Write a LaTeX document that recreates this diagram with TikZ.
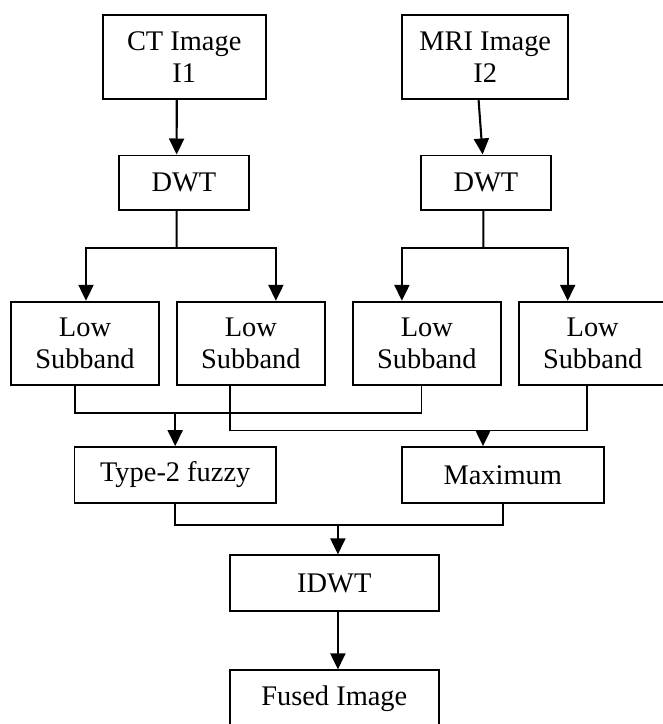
\documentclass[tikz,border=0pt]{standalone}
\usepackage{fontspec}
\setmainfont{Liberation Serif}
\usetikzlibrary{arrows.meta,positioning,calc}

\begin{document}
\begin{tikzpicture}[
  x=0.5pt,y=-0.5pt,
  box/.style={draw,line width=0.9pt,inner sep=0pt,align=center,
    font=\fontsize{14.2}{15.8}\selectfont},
  lowbox/.style={box,minimum width=74pt,minimum height=41.5pt},
  opbox/.style={box,minimum width=100.8pt,minimum height=28pt},
  arr/.style={-{Triangle[length=8pt,width=7.5pt]},line width=1.05pt},
  link/.style={line width=1.05pt},
  thinlink/.style={line width=0.7pt}
]
  \useasboundingbox (0,0) rectangle (663,724);
  % Input images
  \node[box,minimum width=81.5pt,minimum height=42.3pt] (ct) at (184.2,57) {CT Image\\I1};
  \node[box,minimum width=83pt,minimum height=42.3pt] (mri) at (485.2,57) {MRI Image\\I2};
  % Decomposition
  \node[box,minimum width=65pt,minimum height=27.3pt] (dwtL) at (184,182.7) {DWT};
  \node[box,minimum width=65pt,minimum height=27.3pt] (dwtR) at (486,182.7) {DWT};
  % Subbands
  \node[lowbox] (lowA) at (85,343.2) {Low\\Subband};
  \node[lowbox] (lowB) at (250.9,343.2) {Low\\Subband};
  \node[lowbox] (lowC) at (426.9,343.2) {Low\\Subband};
  \node[lowbox] (lowD) at (592.7,343.2) {Low\\Subband};
  % Fusion rules
  \node[opbox] (fuzzy) at (175.2,475) {Type-2 fuzzy};
  \node[opbox] (maxi) at (502.8,475) {Maximum};
  % Reconstruction
  \node[box,minimum width=104.3pt,minimum height=28pt] (idwt) at (334.3,583.3) {IDWT};
  \node[box,minimum width=104.3pt,minimum height=28pt] (fused) at (334.3,698.3) {Fused Image};
  % Junctions
  \coordinate (splitL) at (176.7,248.3);
  \coordinate (splitR) at (483.3,248.3);
  \coordinate (rowA) at (0,413);
  \coordinate (rowB) at (0,430.3);
  \coordinate (rowC) at (0,524.7);
  % Inputs to DWT
  \draw[arr] ([xshift=-3.7pt]ct.south) -- ([xshift=-3.7pt]dwtL.north);
  \draw[arr] ([xshift=-3.3pt]mri.south) -- ([xshift=-1.7pt]dwtR.north);
  % DWT to subbands
  \draw[link] ([xshift=-3.7pt]dwtL.south) -- (splitL);
  \draw[arr] (splitL) -| ([xshift=0.5pt]lowA.north);
  \draw[arr] (splitL) -| ([xshift=12.5pt]lowB.north);
  \draw[link] ([xshift=-1.3pt]dwtR.south) -- (splitR);
  \draw[arr] (splitR) -| ([xshift=-12.5pt]lowC.north);
  \draw[arr] (splitR) -| ([xshift=-12.5pt]lowD.north);
  % Subbands to fusion rules
  \draw[thinlink] ([xshift=-5pt]lowA.south) -- ([xshift=-5pt]lowA.south |- rowA)
    -| ([xshift=-2.6pt]lowC.south);
  \draw[arr] (fuzzy.north |- rowA) -- (fuzzy.north);
  \draw[thinlink] ([xshift=-10.5pt]lowB.south) -- ([xshift=-10.5pt]lowB.south |- rowB)
    -| ([xshift=-2.8pt]lowD.south);
  \draw[arr] ([xshift=-9.9pt]maxi.north |- rowB) -- ([xshift=-9.9pt]maxi.north);
  % Fusion rules to IDWT
  \draw[link] (fuzzy.south) -- (fuzzy.south |- rowC) -| (maxi.south);
  \draw[arr] ([xshift=1.8pt]idwt.north |- rowC) -- ([xshift=1.8pt]idwt.north);
  \draw[arr] ([xshift=1.8pt]idwt.south) -- ([xshift=1.8pt]fused.north);
\end{tikzpicture}
\end{document}
